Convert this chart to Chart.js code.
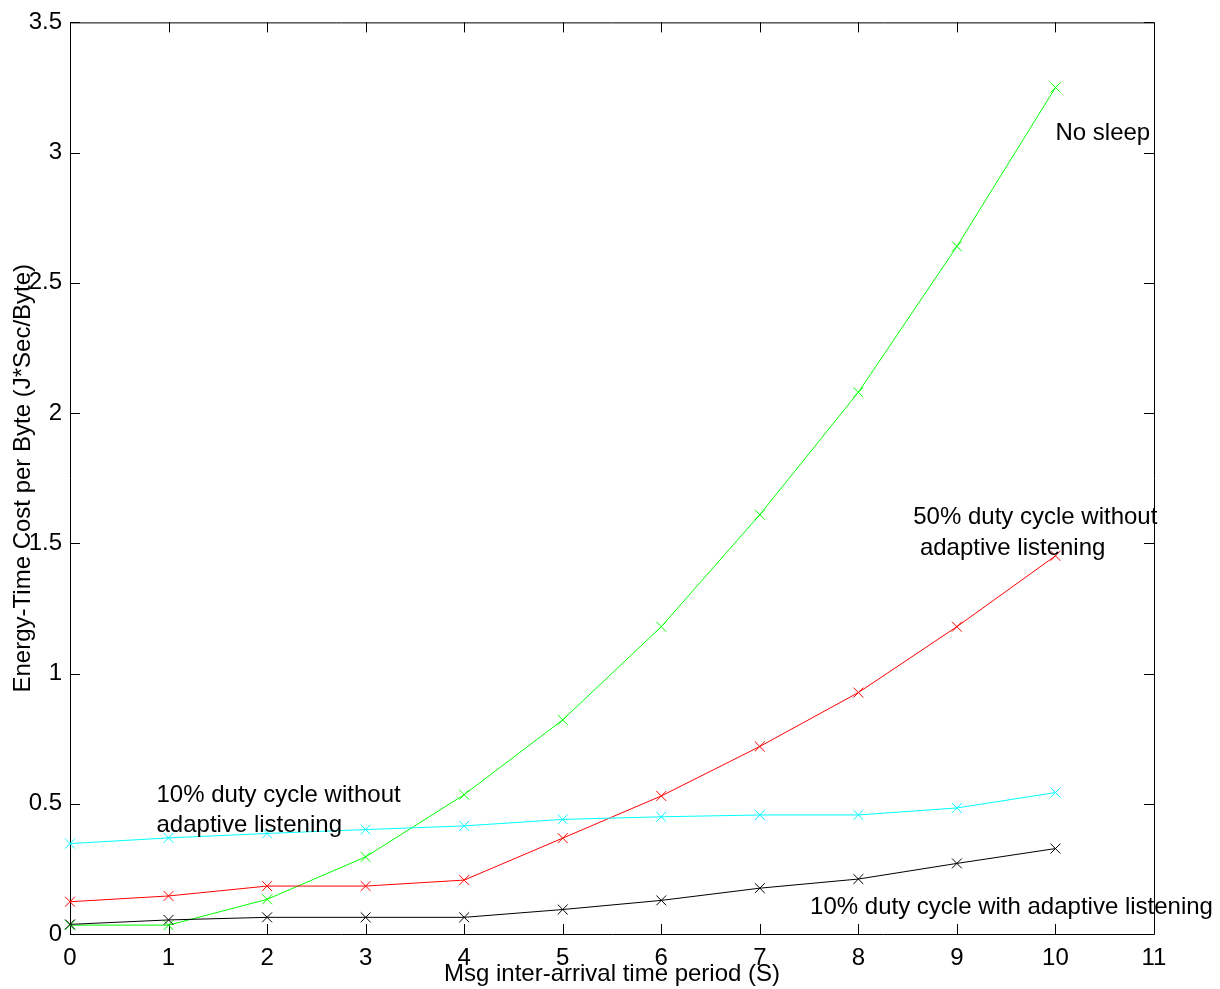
<!DOCTYPE html>
<html>
<head>
<meta charset="utf-8">
<script src="https://cdn.jsdelivr.net/npm/chart.js@4/dist/chart.umd.min.js"></script>
<style>
    html, body { margin: 0; padding: 0; background: #fff; }
    #canvas-chart { display: block; }
</style>
</head>
<body>
<canvas id="canvas-chart" width="1220" height="989"></canvas>
<script>

    // x 轴：消息到达间隔 (S)
    var periods = [0, 1, 2, 3, 4, 5, 6, 7, 8, 9, 10];

    var noSleep = [0.034, 0.034, 0.133, 0.296, 0.535, 0.822, 1.18, 1.61, 2.08, 2.64, 3.25];
    var duty50 = [0.124, 0.146, 0.184, 0.184, 0.207, 0.368, 0.53, 0.72, 0.927, 1.18, 1.452];
    var duty10 = [0.347, 0.369, 0.386, 0.401, 0.415, 0.44, 0.45, 0.457, 0.457, 0.484, 0.543];
    var duty10Adaptive = [0.037, 0.054, 0.064, 0.064, 0.064, 0.094, 0.129, 0.176, 0.211, 0.271, 0.328];

    var xTicks = [0, 1, 2, 3, 4, 5, 6, 7, 8, 9, 10, 11];
    var yTicks = [0, 0.5, 1, 1.5, 2, 2.5, 3, 3.5];

    // 曲线旁的文字标注（数据坐标，左对齐，基线）
    var noteTexts = ['No sleep', '50% duty cycle without', ' adaptive listening',
        '10% duty cycle without', 'adaptive listening', '10% duty cycle with adaptive listening'];
    var noteX = [10.0, 8.557, 8.557, 0.878, 0.878, 7.51];
    var noteY = [3.047, 1.573, 1.455, 0.506, 0.391, 0.078];

    var FONT = '"Liberation Sans", Arial, Helvetica, sans-serif';


    function line(values, color) {
        return {
            'data': values.map(function (v, i) {
                return { x: periods[i], y: v };
            }),
            'borderColor': color,
            'backgroundColor': color,
            'borderWidth': 1,
            'pointStyle': 'crossRot',
            'pointRadius': 7,
            'pointBorderWidth': 1,
            'pointHoverRadius': 7,
            'tension': 0,
            'fill': false,
            'clip': false,
        };
    }


    //外框 + 朝内的刻度线（matlab 风格）
    var frame = {
        id: 'frame',
        beforeDatasetsDraw: function (chart) {
            var ctx = chart.ctx;
            var a = chart.chartArea;
            var sx = chart.scales.x;
            var sy = chart.scales.y;
            var len = 10;

            ctx.save();
            ctx.strokeStyle = '#000';
            ctx.lineWidth = 1;
            ctx.beginPath();
            ctx.rect(a.left + 0.5, a.top + 0.5, a.right - a.left, a.bottom - a.top);

            xTicks.forEach(function (t) {
                var px = Math.round(sx.getPixelForValue(t)) + 0.5;
                ctx.moveTo(px, a.bottom);
                ctx.lineTo(px, a.bottom - len);
                ctx.moveTo(px, a.top);
                ctx.lineTo(px, a.top + len);
            });

            yTicks.forEach(function (t) {
                var py = Math.round(sy.getPixelForValue(t)) + 0.5;
                ctx.moveTo(a.left, py);
                ctx.lineTo(a.left + len, py);
                ctx.moveTo(a.right, py);
                ctx.lineTo(a.right - len, py);
            });

            ctx.stroke();
            ctx.restore();
        },

        afterDraw: function (chart) {
            var ctx = chart.ctx;
            var sx = chart.scales.x;
            var sy = chart.scales.y;

            ctx.save();
            ctx.fillStyle = '#000';
            ctx.font = '24px ' + FONT;
            ctx.textAlign = 'left';
            ctx.textBaseline = 'alphabetic';

            noteTexts.forEach(function (text, i) {
                ctx.fillText(text, sx.getPixelForValue(noteX[i]), sy.getPixelForValue(noteY[i]));
            });

            ctx.restore();
        },
    };


    var canvas = document.getElementById('canvas-chart');
    var context = canvas.getContext('2d');

    var chart = new Chart(context, {
        type: 'line',
        data: {
            'datasets': [
                line(duty10Adaptive, '#000000'),
                line(duty10, '#00ffff'),
                line(duty50, '#ff0000'),
                line(noSleep, '#00ff00'),
            ],
        },
        options: {
            responsive: false,
            animation: false,
            devicePixelRatio: 1,
            events: [],
            layout: {
                padding: { left: 0, top: 20, right: 66, bottom: 0 },
            },
            plugins: {
                legend: { display: false },
                tooltip: { enabled: false },
            },
            scales: {
                x: {
                    type: 'linear',
                    min: 0,
                    max: 11,
                    afterFit: function (scale) { scale.height = 55; },
                    afterBuildTicks: function (scale) {
                        scale.ticks = xTicks.map(function (v) { return { value: v }; });
                    },
                    grid: { display: false, drawTicks: false },
                    border: { display: false },
                    ticks: {
                        color: '#000',
                        padding: 10,
                        maxRotation: 0,
                        autoSkip: false,
                        font: { family: FONT, size: 24 },
                        callback: function (v) { return String(v); },
                    },
                    title: {
                        display: true,
                        text: 'Msg inter-arrival time period (S)',
                        color: '#000',
                        padding: { top: 0, bottom: 0 },
                        font: { family: FONT, size: 24 },
                    },
                },
                y: {
                    type: 'linear',
                    min: 0,
                    max: 3.5,
                    afterFit: function (scale) { scale.width = 70; },
                    afterBuildTicks: function (scale) {
                        scale.ticks = yTicks.map(function (v) { return { value: v }; });
                    },
                    grid: { display: false, drawTicks: false },
                    border: { display: false },
                    ticks: {
                        color: '#000',
                        padding: 8,
                        autoSkip: false,
                        font: { family: FONT, size: 24 },
                        callback: function (v) { return String(v); },
                    },
                    title: {
                        display: true,
                        text: 'Energy-Time Cost per Byte (J*Sec/Byte)',
                        color: '#000',
                        padding: { top: 9, bottom: 0 },
                        font: { family: FONT, size: 24 },
                    },
                },
            },
        },
        plugins: [frame],
    });

</script>
</body>
</html>
